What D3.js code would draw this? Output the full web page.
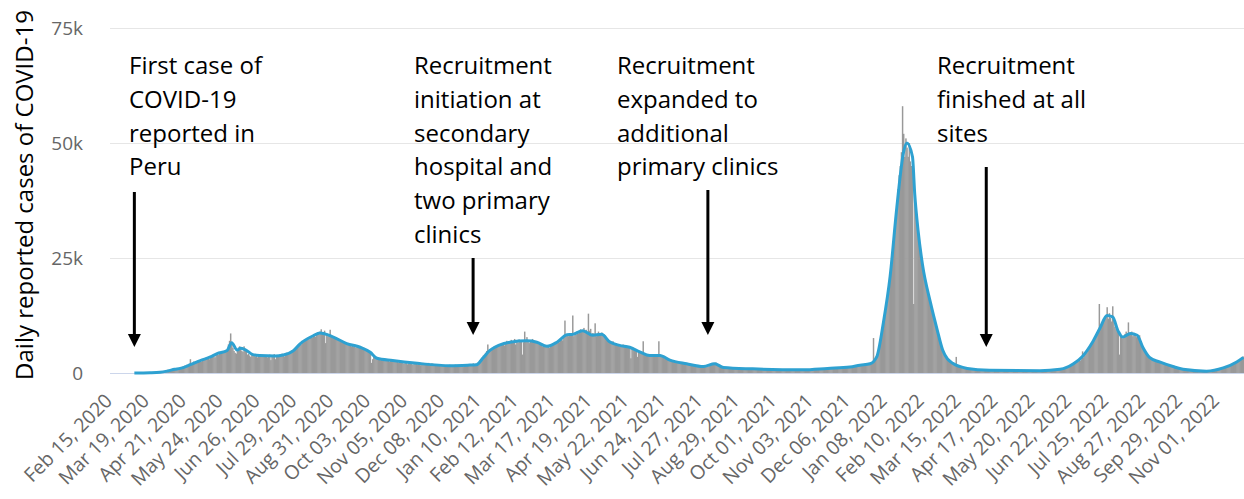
<!DOCTYPE html>
<html>
<head>
<meta charset="utf-8">
<script src="https://cdn.jsdelivr.net/npm/d3@7"></script>
<style>
  body { margin: 0; background: #fff; }
  svg { display: block; }
</style>
</head>
<body>
<svg id="chart" width="1244" height="499"></svg>
<script>
// ---------------- DATA ----------------
// Daily reported cases in HUNDREDS, one value per day, first value = 2020-03-06
const casesStartDate = "2020-03-06";
const dailyCases2020 = [
  // Mar 6-31
  0,0,0,0.1,0.1,0.1,0.2,0.2,0.3,0.4, 0.3,0.5,0.6,0.8,0.7,0.9,1.1,1.0,1.3,1.4, 1.6,1.5,1.8,2.0,2.4,2.6,
  // Apr
  3,2,5,4,7,5,6,8,6,9, 8,7,10,9,11,10,12,14,12,16, 15,18,17,20,30,19,22,25,21,24,
  // May
  26,24,28,27,25,30,31,29,33,32, 34,30,36,35,38,37,34,40,41,39, 43,45,42,46,44,48,47,50,62,70, 86,
  // Jun
  66,55,48,44,42,50,55,58,52,48, 46,58,52,46,40,42,38,35,42,39, 38,36,40,34,39,37,35,40,36,38,
  // Jul
  37,39,34,36,40,28,38,37,41,30, 39,35,38,40,37,42,39,36,41,44, 43,45,42,46,50,48,52,55,53,58, 60,
  // Aug
  64,62,70,68,72,74,71,76,73,78, 80,77,82,84,79,86,88,84,90,95, 87,85,92,65,86,80,82,94,78,76, 79,
  // Sep
  77,74,72,75,70,68,71,66,69,64, 67,62,65,60,63,58,61,57,62,55, 59,56,58,54,57,53,55,50,52,48,
  // Oct
  47,44,42,22,30,36,33,30,31,29, 32,28,30,27,29,26,28,30,27,25, 29,26,27,28,24,27,25,23,26,24, 25,
  // Nov
  23,20,24,22,19,21,23,20,22,18, 21,23,20,19,22,21,17,20,22,19, 21,18,20,22,17,19,21,20,18,19,
  // Dec
  18,16,17,19,15,17,16,18,14,17, 15,16,18,15,17,14,16,18,17,15, 16,17,14,18,13,15,17,18,16,19, 17
];
const dailyCases2021 = [
  // Jan
  19,18,21,17,20,16,22,24,28,30, 33,38,40,44,48,62,46,52,50,55, 54,58,56,60,57,62,59,63,61,64, 60,
  // Feb
  66,70,63,68,65,72,67,69,74,62, 70,66,73,68,71,40,67,90,70,78, 69,65,71,68,74,66,70,67,
  // Mar
  68,65,62,64,60,58,61,57,59,56, 58,55,60,62,59,64,66,63,68,70, 67,72,74,71,76,114,82,84,80,86, 83,
  // Apr
  85,125,80,88,84,90,86,92,95,89, 93,98,91,94,88,129,92,96,85,87, 82,108,80,86,90,83,85,88,82,84,
  // May
  80,78,74,72,70,68,66,69,64,62, 65,60,63,58,61,59,62,57,60,55, 58,56,54,32,53,55,51,50,48,35, 47,
  // Jun
  45,44,42,69,41,39,40,38,37,39, 36,38,35,37,36,39,40,69,41,38, 35,33,32,31,30,29,28,29,27,26,
  // Jul
  26,25,24,23,24,22,23,21,22,20, 21,19,20,21,19,18,19,17,18,16, 17,16,15,16,14,15,14,13,15,14, 13,
  // Aug
  14,15,16,18,20,22,21,23,19,18, 17,15,14,13,12,11,12,11,10,12, 11,10,11,12,10,11,9,10,11,10, 9,
  // Sep
  10,9,9,10,8,9,10,9,8,9, 10,8,9,9,8,10,9,8,9,8, 9,8,7,9,8,8,9,7,8,8,
  // Oct
  8,7,7,8,6,7,8,7,6,7, 8,7,6,7,7,8,6,7,7,6, 8,7,6,7,7,6,8,7,7,8, 7,
  // Nov
  8,7,8,9,8,9,8,10,9,8, 10,9,11,10,9,10,11,10,9,11, 12,10,11,12,11,13,11,12,13,12,
  // Dec
  13,12,14,13,12,14,13,15,14,16, 15,17,16,18,17,19,18,17,20,19, 18,21,20,19,22,21,76,28,35,40, 45
];
const dailyCases2022 = [
  // Jan
  50,60,75,90,105,120,135,150,165,185, 205,225,250,280,310,340,370,400,430,450, 480,580,520,470,510,490,470,500,460,450, 440,
  // Feb
  150,390,360,330,310,290,270,250,235,220, 205,190,180,170,160,150,140,130,120,110, 100,95,85,75,65,55,50,45,
  // Mar
  40,36,32,28,25,22,21,20,19,18, 35,16,14,13,12,11,10,10,9,9, 8,8,7,7,7,7,6,7,6,6, 6,
  // Apr
  7,6,6,7,6,5,6,7,6,5, 6,6,5,6,5,6,7,6,5,6, 5,6,5,5,6,5,6,5,5,6,
  // May
  5,5,6,5,4,5,5,6,5,4, 5,5,4,5,6,5,5,4,5,5, 6,5,5,4,5,6,5,5,6,5, 6,
  // Jun
  6,6,7,6,7,7,8,7,8,7, 8,9,8,10,9,11,12,13,14,15, 16,18,17,21,20,22,25,24,28,27,
  // Jul
  30,47,34,38,42,45,48,52,58,62, 66,70,75,80,85,90,150,100,105,110, 115,120,125,143,118,130,120,112,145,115, 100,
  // Aug
  95,90,85,40,82,78,75,80,85,90, 86,110,88,84,90,80,85,82,78,80, 75,82,65,60,55,50,47,44,40,37, 35,
  // Sep
  33,31,29,28,27,26,25,24,24,23, 22,21,20,19,18,17,17,16,15,14, 14,13,12,12,11,10,10,9,9,8,
  // Oct
  8,7,7,6,6,6,5,5,5,5, 4,5,4,4,5,4,4,4,5,4, 4,4,5,4,5,5,6,5,6,7, 7,
  // Nov 1-23
  8,9,10,10,11,12,13,13,14,15, 16,17,18,19,21,22,24,26,28,30, 32,34,36
];

// 7-day average line (thousands of cases), read at key dates
const avgDates = [
  "2020-03-06","2020-03-20","2020-03-29","2020-04-05","2020-04-11","2020-04-16","2020-04-25","2020-05-04",
  "2020-05-13","2020-05-19","2020-05-28","2020-06-01","2020-06-06","2020-06-09","2020-06-13","2020-06-20",
  "2020-06-26","2020-07-10","2020-07-17","2020-07-26","2020-08-01","2020-08-13","2020-08-19","2020-08-31",
  "2020-09-12","2020-09-24","2020-10-03","2020-10-09","2020-10-23","2020-11-14","2020-12-13","2020-12-29",
  "2021-01-06","2021-01-12","2021-01-18","2021-02-05","2021-02-20","2021-03-01","2021-03-10","2021-03-19",
  "2021-03-28","2021-04-02","2021-04-11","2021-04-20","2021-04-28","2021-05-05","2021-05-14","2021-05-23",
  "2021-06-01","2021-06-10","2021-06-19","2021-06-28","2021-07-13","2021-07-28","2021-08-07","2021-08-15",
  "2021-09-10","2021-10-25","2021-11-16","2021-12-06","2021-12-15","2021-12-24","2021-12-30","2022-01-05",
  "2022-01-11","2022-01-17","2022-01-23","2022-01-26","2022-01-31","2022-02-02","2022-02-05","2022-02-09",
  "2022-02-16","2022-02-22","2022-02-27","2022-03-08","2022-03-21","2022-04-10","2022-05-25","2022-06-12",
  "2022-06-24","2022-07-02","2022-07-11","2022-07-18","2022-07-24","2022-07-29","2022-08-03","2022-08-07",
  "2022-08-14","2022-08-20","2022-08-25","2022-08-31","2022-09-09","2022-09-21","2022-09-30","2022-10-21",
  "2022-11-05","2022-11-17","2022-11-23"
];
const avgValues = [
  0,0.05,0.15,0.45,0.8,1.0,1.8,2.7,
  3.5,4.2,4.9,6.6,5.0,5.4,5.1,4.0,
  3.8,3.7,3.9,4.8,6.3,8.1,8.7,7.8,
  6.4,5.6,4.5,3.2,2.7,2.1,1.6,1.7,
  1.8,3.3,4.9,6.7,7.0,6.7,5.8,6.7,
  8.3,8.4,9.2,8.2,8.4,6.8,6.0,5.6,
  4.6,3.8,3.8,2.8,2.0,1.4,2.0,1.2,
  0.9,0.7,1.0,1.3,1.7,2.0,3.5,11,
  21,36,48,50,47,39,31,23.5,
  15.4,9.5,5,2.1,1.0,0.6,0.5,0.8,
  2.0,3.6,6.7,9.9,12.5,12.2,9.1,7.8,
  8.6,8.2,5.6,3.4,2.4,1.4,0.8,0.4,
  1.1,2.4,3.4
];

const xTickDates = [
  "2020-02-15","2020-03-19","2020-04-21","2020-05-24","2020-06-26","2020-07-29","2020-08-31","2020-10-03",
  "2020-11-05","2020-12-08","2021-01-10","2021-02-12","2021-03-17","2021-04-19","2021-05-22","2021-06-24",
  "2021-07-27","2021-08-29","2021-10-01","2021-11-03","2021-12-06","2022-01-08","2022-02-10","2022-03-15",
  "2022-04-17","2022-05-20","2022-06-22","2022-07-25","2022-08-27","2022-09-29","2022-11-01"
];
const xTickLabels = [
  "Feb 15, 2020","Mar 19, 2020","Apr 21, 2020","May 24, 2020","Jun 26, 2020","Jul 29, 2020","Aug 31, 2020","Oct 03, 2020",
  "Nov 05, 2020","Dec 08, 2020","Jan 10, 2021","Feb 12, 2021","Mar 17, 2021","Apr 19, 2021","May 22, 2021","Jun 24, 2021",
  "Jul 27, 2021","Aug 29, 2021","Oct 01, 2021","Nov 03, 2021","Dec 06, 2021","Jan 08, 2022","Feb 10, 2022","Mar 15, 2022",
  "Apr 17, 2022","May 20, 2022","Jun 22, 2022","Jul 25, 2022","Aug 27, 2022","Sep 29, 2022","Nov 01, 2022"
];
const yTickValues = [0, 25000, 50000, 75000];
const yTickLabels = ["0", "25k", "50k", "75k"];
const yAxisTitle = "Daily reported cases of COVID-19";

const annotationTexts = [
  ["First case of", "COVID-19", "reported in", "Peru"],
  ["Recruitment", "initiation at", "secondary", "hospital and", "two primary", "clinics"],
  ["Recruitment", "expanded to", "additional", "primary clinics"],
  ["Recruitment", "finished at all", "sites"]
];
const annotationDates = ["2020-03-06", "2021-01-03", "2021-08-01", "2022-04-07"];

// ---------------- LAYOUT ----------------
const W = 1244, H = 499;
const plotLeft = 110, plotRight = 1244;
const layout = {
  textX: [129, 414, 617, 937],
  arrowTop: [192, 258, 190, 167],
  arrowTip: [347, 335, 335, 347],
  firstBaseline: 74,
  lineGap: 33.8
};

const parse = d3.utcParse("%Y-%m-%d");
const svg = d3.select("#chart");

const x = d3.scaleUtc()
  .domain([parse("2020-02-15"), parse("2022-11-01")])
  .range([112, 1218.8]);
const y = d3.scaleLinear().domain([0, 75000]).range([373, 28]);

// gridlines + y labels
const yAxis = d3.axisLeft(y)
  .tickValues(yTickValues)
  .tickFormat((d, i) => yTickLabels[i])
  .tickSize(-(plotRight - plotLeft))
  .tickPadding(27);
const gy = svg.append("g").attr("transform", `translate(${plotLeft},0)`).call(yAxis);
gy.select(".domain").remove();
gy.selectAll(".tick line").attr("stroke", d => d === 0 ? "#ccd6eb" : "#e6e6e6").attr("stroke-width", 1);
gy.selectAll(".tick text")
  .attr("fill", "#666")
  .style("font-family", "'Open Sans', sans-serif")
  .style("font-size", "19px");

// bars
const allCases = dailyCases2020.concat(dailyCases2021, dailyCases2022);
const start = parse(casesStartDate);
const barData = allCases.map((v, i) => ({ date: d3.utcDay.offset(start, i), value: v * 100 }));
const dayW = x(d3.utcDay.offset(start, 1)) - x(start);

const plot = svg.append("g");
plot.selectAll("rect.bar")
  .data(barData)
  .join("rect")
  .attr("class", "bar")
  .attr("x", d => x(d.date) - dayW / 2)
  .attr("width", dayW + 0.35)
  .attr("y", d => y(d.value))
  .attr("height", d => y(0) - y(d.value))
  .attr("fill", "#999999");

// zero line on top of bars
svg.append("line")
  .attr("x1", plotLeft).attr("x2", plotRight)
  .attr("y1", y(0) + 0.5).attr("y2", y(0) + 0.5)
  .attr("stroke", "#ccd6eb").attr("stroke-width", 1);

// 7-day average line
const lineData = avgDates.map((d, i) => ({ date: parse(d), value: avgValues[i] * 1000 }));
const line = d3.line()
  .x(d => x(d.date))
  .y(d => y(d.value))
  .curve(d3.curveMonotoneX);
svg.append("path")
  .datum(lineData)
  .attr("d", line)
  .attr("fill", "none")
  .attr("stroke", "#2ea1d1")
  .attr("stroke-width", 3)
  .attr("stroke-linejoin", "round");

// x axis labels
const xAxis = d3.axisBottom(x)
  .tickValues(xTickDates.map(parse))
  .tickFormat((d, i) => xTickLabels[i])
  .tickSize(0);
const gx = svg.append("g").attr("transform", `translate(0,${y(0)})`).call(xAxis);
gx.select(".domain").remove();
gx.selectAll(".tick text")
  .attr("x", 0).attr("y", 0).attr("dy", 0)
  .attr("text-anchor", "end")
  .attr("transform", "translate(1,29) rotate(-45)")
  .attr("fill", "#666")
  .style("font-family", "'Open Sans', sans-serif")
  .style("font-size", "19.5px");

// y axis title
svg.append("text")
  .attr("transform", "translate(33,195) rotate(-90)")
  .attr("text-anchor", "middle")
  .attr("fill", "#000")
  .style("font-family", "'Open Sans', sans-serif")
  .style("font-size", "24px")
  .text(yAxisTitle);

// annotations
annotationTexts.forEach((lines, i) => {
  const t = svg.append("text")
    .attr("fill", "#000")
    .style("font-family", "'Open Sans', sans-serif")
    .style("font-size", "24px");
  lines.forEach((s, j) => {
    t.append("tspan")
      .attr("x", layout.textX[i])
      .attr("y", layout.firstBaseline + j * layout.lineGap)
      .text(s);
  });
  const ax = x(parse(annotationDates[i]));
  const top = layout.arrowTop[i], tip = layout.arrowTip[i];
  svg.append("line")
    .attr("x1", ax).attr("x2", ax)
    .attr("y1", top).attr("y2", tip - 10)
    .attr("stroke", "#000").attr("stroke-width", 3);
  svg.append("path")
    .attr("d", d3.line()([[ax - 6.5, tip - 13], [ax + 6.5, tip - 13], [ax, tip]]) + "Z")
    .attr("fill", "#000");
});
</script>
</body>
</html>
